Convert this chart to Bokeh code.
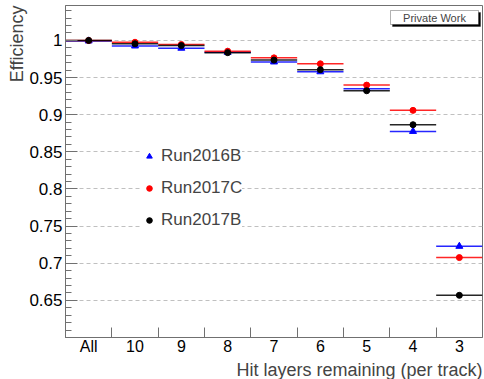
import math
from bokeh.plotting import figure
from bokeh.models import (FixedTicker, CustomJSTickFormatter, Label, Legend, LegendItem,
                          ColumnDataSource, BoxAnnotation, Range1d, Title)
from bokeh.embed import file_html
from bokeh.resources import INLINE

categories = ["All", "10", "9", "8", "7", "6", "5", "4", "3"]
eff_2016B = [0.9993, 0.9925, 0.9895, 0.9840, 0.9710, 0.9578, 0.9350, 0.8775, 0.7228]
eff_2017C = [0.9998, 0.9975, 0.9945, 0.9855, 0.9765, 0.9685, 0.9398, 0.9058, 0.7076]
eff_2017B = [1.0000, 0.9955, 0.9930, 0.9835, 0.9735, 0.9606, 0.9322, 0.8865, 0.6568]

y_major = [0.65, 0.7, 0.75, 0.8, 0.85, 0.9, 0.95, 1.0]
y_minor = [round(0.60 + 0.01 * i, 2) for i in range(45)]

FONT = "Liberation Sans"
AXC = "#707070"

p = figure(width=484, height=379, x_range=Range1d(0, 9), y_range=Range1d(0.6, 1.047),
           output_backend="svg", toolbar_location=None,
           min_border_left=65, min_border_right=2, min_border_top=5, min_border_bottom=38)
p.outline_line_color = AXC
p.background_fill_color = "white"
p.border_fill_color = "white"

n = len(categories)
centers = [i + 0.5 for i in range(n)]
edges_inner = [float(i) for i in range(1, n)]

# x axis (tick labels at bin centres, ticks at bin edges)
xa = p.xaxis[0]
xa.ticker = FixedTicker(ticks=centers, minor_ticks=edges_inner)
xa.formatter = CustomJSTickFormatter(args=dict(labels=categories),
                                     code="return labels[Math.floor(tick)];")
xa.major_tick_in = 0
xa.major_tick_out = 0
xa.minor_tick_in = 10
xa.minor_tick_out = 0
xa.axis_line_color = AXC
xa.minor_tick_line_color = AXC
xa.major_label_text_font = FONT
xa.major_label_text_font_size = "16px"
xa.major_label_text_color = "black"
xa.major_label_standoff = 0
p.xgrid.visible = False

# y axis
ya = p.yaxis[0]
yt = FixedTicker(ticks=y_major, minor_ticks=y_minor)
ya.ticker = yt
ya.formatter = CustomJSTickFormatter(code="return Number(tick.toFixed(2)).toString();")
ya.major_tick_in = 12
ya.major_tick_out = 0
ya.minor_tick_in = 6
ya.minor_tick_out = 0
ya.axis_line_color = AXC
ya.major_tick_line_color = AXC
ya.minor_tick_line_color = AXC
ya.major_label_text_font = FONT
ya.major_label_text_font_size = "17px"
ya.major_label_text_color = "black"
ya.major_label_standoff = 3
p.ygrid.ticker = yt
p.ygrid.grid_line_color = "#c0c0c0"
p.ygrid.grid_line_dash = "4 3"

series = [
    ("Run2016B", eff_2016B, "#0000ff", "triangle", 7),
    ("Run2017C", eff_2017C, "#ff0000", "circle", 6),
    ("Run2017B", eff_2017B, "#000000", "circle", 6),
]
legend_items = []
for name, vals, col, marker, size in series:
    src = ColumnDataSource(dict(x=centers, x0=[c - 0.5 for c in centers],
                                x1=[c + 0.5 for c in centers], y=vals))
    p.segment(x0="x0", x1="x1", y0="y", y1="y", source=src, line_color=col,
              line_width=1.5, line_alpha=0.85)
    r = p.scatter(x="x", y="y", source=src, marker=marker, size=size,
                  fill_color=col, line_color=col)
    legend_items.append(LegendItem(label=name, renderers=[r]))

legend = Legend(items=legend_items, location=(77, 107), margin=0, padding=5,
                glyph_width=14, glyph_height=20, label_height=20, spacing=12,
                label_standoff=5, label_text_font=FONT, label_text_font_size="17px",
                border_line_color=None, background_fill_color="white",
                background_fill_alpha=1.0)
p.add_layout(legend)

# axis titles, aligned to the far end of each axis
p.add_layout(Title(text="Efficiency", align="right", text_font=FONT, text_font_size="18px",
                   text_font_style="normal", standoff=0, offset=0), "left")
p.add_layout(Title(text="Hit layers remaining (per track)", align="right", text_font=FONT,
                   text_font_size="18px", text_font_style="normal", standoff=0, offset=0),
             "below")

# "Private Work" box with shadow
p.add_layout(BoxAnnotation(left=327, right=415, top=325, bottom=311,
                           left_units="screen", right_units="screen",
                           top_units="screen", bottom_units="screen",
                           fill_color="black", fill_alpha=1, line_color="black"))
p.add_layout(BoxAnnotation(left=325, right=413, top=327, bottom=313,
                           left_units="screen", right_units="screen",
                           top_units="screen", bottom_units="screen",
                           fill_color="white", fill_alpha=1, line_color="black", line_width=1))
p.add_layout(Label(x=369, y=320, x_units="screen", y_units="screen", text="Private Work",
                   text_align="center", text_baseline="middle", text_font=FONT,
                   text_font_size="11px"))

open("out.html", "w").write(file_html(p, INLINE))
